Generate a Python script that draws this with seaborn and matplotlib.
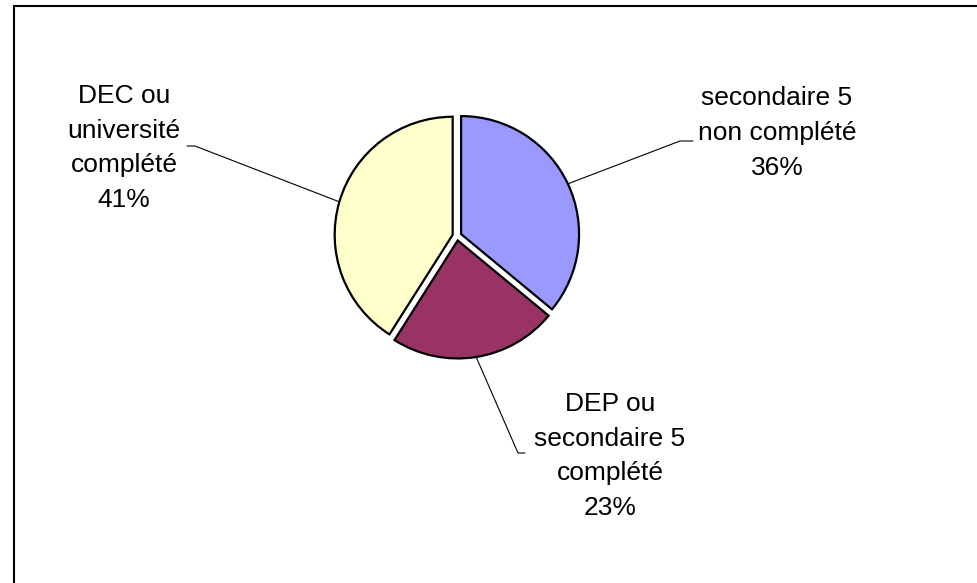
import matplotlib.pyplot as plt
import matplotlib.patches as mpatches
import numpy as np
import seaborn as sns

# data
categories = ["secondaire 5\nnon complété", "DEP ou\nsecondaire 5\ncomplété", "DEC ou\nuniversité\ncomplété"]
shares = [36, 23, 41]
slice_colors = ["#9999FF", "#993366", "#FFFFCC"]

# layout (pixel coords, y up)
W, H = 977, 583
center = (457, 347)
radius = 118
gap = 4.5  # explode offset in px (pie explode is in data units)
label_pos = [(777, 450), (610, 127), (124, 435)]
elbows = [((680, 442), (693, 442)), ((518, 130), (525, 130)), ((195, 437), (187, 437))]

sns.set_theme(style="white")
plt.rcParams["font.family"] = ["Liberation Sans", "DejaVu Sans"]

fig = plt.figure(figsize=(W / 100, H / 100), dpi=100)
ax = fig.add_axes([0, 0, 1, 1])

wedges, _ = ax.pie(shares, colors=slice_colors, startangle=90, counterclock=False,
                   explode=[gap] * len(shares), center=center, radius=radius,
                   wedgeprops=dict(edgecolor="black", linewidth=1.6), frame=True)
ax.set_xlim(0, W)
ax.set_ylim(0, H)
ax.set_axis_off()

for w, name, share, pos, (elb, end) in zip(wedges, categories, shares, label_pos, elbows):
    mid = np.deg2rad((w.theta1 + w.theta2) / 2)
    cx, cy = w.center
    edge = (cx + w.r * np.cos(mid), cy + w.r * np.sin(mid))
    ax.plot([edge[0], elb[0], end[0]], [edge[1], elb[1], end[1]], color="black", lw=0.8)
    ax.text(pos[0], pos[1], f"{name}\n{share}%", ha="center", va="center",
            fontsize=19, linespacing=1.56, color="black")

# outer frame (right/bottom edges fall outside the image)
frame = mpatches.Rectangle((14 / W, -0.1), 1.2, 1.1 - 6 / H, transform=fig.transFigure,
                           fill=False, edgecolor="black", lw=1.5, clip_on=False)
fig.patches.append(frame)

fig.savefig("out.png", dpi=100)
